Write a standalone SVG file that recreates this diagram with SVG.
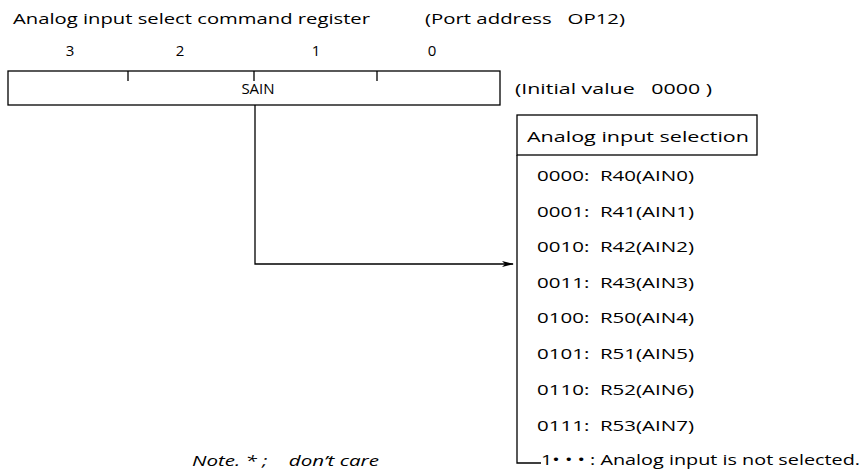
<svg xmlns="http://www.w3.org/2000/svg" width="865" height="472" viewBox="0 0 865 472">
<style>
text{font-family:"Open Sans","Liberation Sans",sans-serif;font-size:15px;fill:#000}
.ln{stroke:#000;stroke-width:1.3;fill:none}
.it{font-style:italic}
</style>
<defs>
<marker id="ah" markerWidth="12" markerHeight="8" refX="11" refY="4" orient="auto" markerUnits="userSpaceOnUse">
<path d="M0,1 L12,4 L0,7 L3,4 Z" fill="#000"/>
</marker>
</defs>
<rect width="865" height="472" fill="#fff"/>
<g id="title">
<text x="13" y="24" textLength="357" lengthAdjust="spacingAndGlyphs">Analog input select command register</text>
<text x="425" y="24" textLength="200" lengthAdjust="spacingAndGlyphs" xml:space="preserve">(Port address   OP12)</text>
</g>
<g id="register">
<text x="70" y="56" text-anchor="middle">3</text>
<text x="180" y="56" text-anchor="middle">2</text>
<text x="316" y="56" text-anchor="middle">1</text>
<text x="432" y="56" text-anchor="middle">0</text>
<rect class="ln" x="8" y="71" width="492" height="34"/>
<path class="ln" d="M128,71 V81 M254,71 V81 M377,71 V81"/>
<text x="258" y="94" text-anchor="middle">SAIN</text>
<text x="515" y="94" textLength="197" lengthAdjust="spacingAndGlyphs" xml:space="preserve">(Initial value   0000 )</text>
</g>
<g id="connectors">
<path class="ln" d="M255,105 V264 H513" marker-end="url(#ah)"/>
</g>
<g id="selection">
<rect class="ln" x="517" y="115" width="240" height="40"/>
<text x="527" y="142" textLength="222" lengthAdjust="spacingAndGlyphs">Analog input selection</text>
<path class="ln" d="M517,155 V463 H541"/>
<text x="537" y="181" textLength="157" lengthAdjust="spacingAndGlyphs" xml:space="preserve">0000:  R40(AIN0)</text>
<text x="537" y="217" textLength="157" lengthAdjust="spacingAndGlyphs" xml:space="preserve">0001:  R41(AIN1)</text>
<text x="537" y="252" textLength="157" lengthAdjust="spacingAndGlyphs" xml:space="preserve">0010:  R42(AIN2)</text>
<text x="537" y="288" textLength="157" lengthAdjust="spacingAndGlyphs" xml:space="preserve">0011:  R43(AIN3)</text>
<text x="537" y="323" textLength="157" lengthAdjust="spacingAndGlyphs" xml:space="preserve">0100:  R50(AIN4)</text>
<text x="537" y="359" textLength="157" lengthAdjust="spacingAndGlyphs" xml:space="preserve">0101:  R51(AIN5)</text>
<text x="537" y="395" textLength="157" lengthAdjust="spacingAndGlyphs" xml:space="preserve">0110:  R52(AIN6)</text>
<text x="537" y="431" textLength="157" lengthAdjust="spacingAndGlyphs" xml:space="preserve">0111:  R53(AIN7)</text>
<text x="541" y="465" textLength="319" lengthAdjust="spacingAndGlyphs">1• • • : Analog input is not selected.</text>
</g>
<g id="note">
<text class="it" x="192" y="466" textLength="187" lengthAdjust="spacingAndGlyphs" xml:space="preserve">Note. * ;    don’t care</text>
</g>
</svg>
